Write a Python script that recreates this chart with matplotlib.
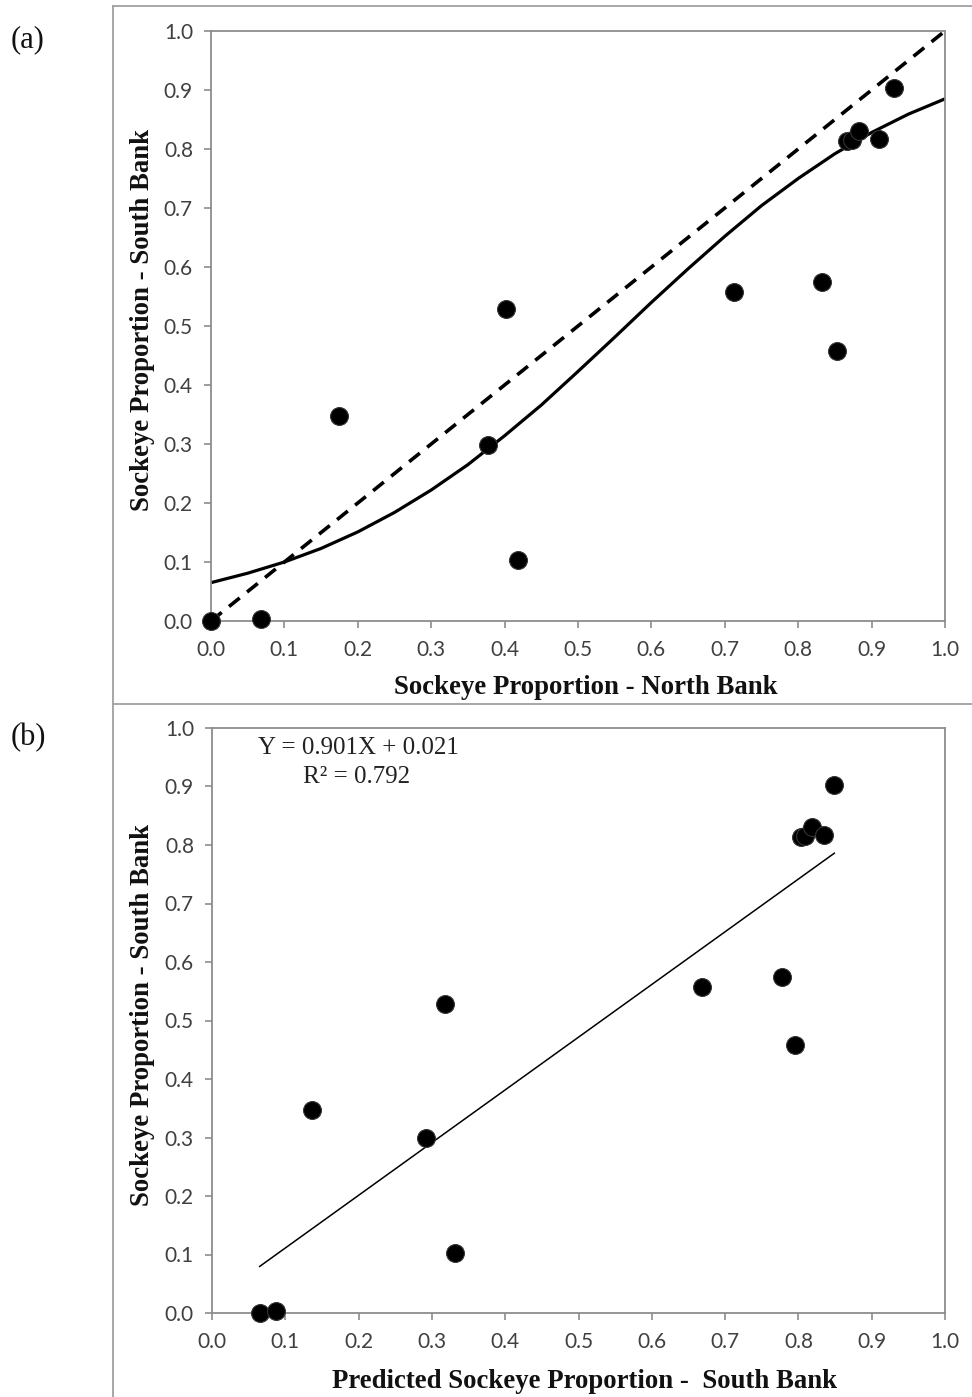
import matplotlib
matplotlib.use("Agg")
import matplotlib.pyplot as plt
from matplotlib.lines import Line2D

# ---------------- data ----------------
north_bank = [0.000, 0.068, 0.175, 0.378, 0.402, 0.418, 0.713, 0.833, 0.853,
              0.866, 0.873, 0.883, 0.910, 0.930]
south_bank = [0.000, 0.003, 0.347, 0.299, 0.528, 0.103, 0.557, 0.575, 0.458,
              0.813, 0.815, 0.830, 0.817, 0.903]
predicted_south = [0.065, 0.087, 0.137, 0.292, 0.318, 0.332, 0.668, 0.778, 0.795,
                   0.804, 0.809, 0.818, 0.835, 0.849]

curve_x = [0.00, 0.05, 0.10, 0.15, 0.20, 0.25, 0.30, 0.35, 0.40, 0.45, 0.50,
           0.55, 0.60, 0.65, 0.70, 0.75, 0.80, 0.85, 0.90, 0.95, 1.00]
curve_y = [0.065, 0.081, 0.100, 0.123, 0.151, 0.184, 0.222, 0.265, 0.314, 0.366, 0.423,
           0.481, 0.540, 0.597, 0.652, 0.704, 0.750, 0.792, 0.828, 0.859, 0.885]

one_to_one_x = [0.0, 1.0]
one_to_one_y = [0.0, 1.0]

reg_x = [0.065, 0.849]
reg_slope = 0.901
reg_intercept = 0.021
reg_y = [reg_slope * v + reg_intercept for v in reg_x]

ticks = [0.0, 0.1, 0.2, 0.3, 0.4, 0.5, 0.6, 0.7, 0.8, 0.9, 1.0]
tick_labels = ["0.0", "0.1", "0.2", "0.3", "0.4", "0.5", "0.6", "0.7", "0.8", "0.9", "1.0"]

# ---------------- style ----------------
W, H = 972, 1397
fig = plt.figure(figsize=(W / 100, H / 100), dpi=100)

spine_col = "#8c8c8c"
tick_font = ["Lato", "DejaVu Sans"]
serif = ["Liberation Serif", "DejaVu Serif"]


def fx(px):
    return px / W


def fy(py):
    return 1 - py / H


def style_axes(ax):
    ax.set_xlim(0, 1)
    ax.set_ylim(0, 1)
    ax.set_xticks(ticks)
    ax.set_yticks(ticks)
    ax.set_xticklabels(tick_labels, fontfamily=tick_font, fontsize=15, color="#404040")
    ax.set_yticklabels(tick_labels, fontfamily=tick_font, fontsize=15, color="#404040")
    for s in ax.spines.values():
        s.set_color(spine_col)
        s.set_linewidth(1.3)
    ax.tick_params(direction="out", length=5, width=1.2, color=spine_col)
    ax.tick_params(axis="x", pad=9)
    ax.tick_params(axis="y", pad=8)


# panel (a)
axa = fig.add_axes([fx(211), fy(621), fx(945) - fx(211), fy(31) - fy(621)])
style_axes(axa)
axa.plot(one_to_one_x, one_to_one_y, color="black", lw=2.6,
         linestyle=(0, (3.8, 2.6)), clip_on=False, zorder=2)
axa.plot(curve_x, curve_y, color="black", lw=2.3, zorder=2)
axa.scatter(north_bank, south_bank, s=165, color="black", edgecolor="#333333",
            linewidth=0.8, zorder=3, clip_on=False)

# panel (b)
axb = fig.add_axes([fx(212), fy(1313), fx(945) - fx(212), fy(728) - fy(1313)])
style_axes(axb)
axb.plot(reg_x, reg_y, color="black", lw=1.1, zorder=2)
axb.scatter(predicted_south, south_bank, s=165, color="black", edgecolor="#333333",
            linewidth=0.8, zorder=3, clip_on=False)
fig.text(fx(358), fy(748), "Y = 0.901X + 0.021", fontfamily=serif, fontsize=18,
         ha="center", va="center", color="#222222")
fig.text(fx(357), fy(777), "R² = 0.792", fontfamily=serif, fontsize=18,
         ha="center", va="center", color="#222222")

# axis labels
lab_kw = dict(fontfamily=serif, fontweight="bold", fontsize=19.3, color="#111111")
fig.text(fx(586), fy(688), "Sockeye Proportion - North Bank", ha="center", va="center", **lab_kw)
fig.text(fx(585), fy(1381), "Predicted Sockeye Proportion -  South Bank", ha="center", va="center", **lab_kw)
fig.text(fx(142), fy(320), "Sockeye Proportion - South Bank", ha="center", va="center",
         rotation=90, **lab_kw)
fig.text(fx(142), fy(1015), "Sockeye Proportion - South Bank", ha="center", va="center",
         rotation=90, **lab_kw)

# panel letters
fig.text(fx(28), fy(40), "(a)", fontfamily=serif, fontsize=22, ha="center", va="center", color="#111111")
fig.text(fx(28), fy(738), "(b)", fontfamily=serif, fontsize=22, ha="center", va="center", color="#111111")

# outer frame lines
frame_col = "#a0a0a0"
fig.add_artist(Line2D([fx(113), 1.0], [fy(6), fy(6)], color=frame_col, lw=1.3))
fig.add_artist(Line2D([fx(113), 1.0], [fy(704), fy(704)], color=frame_col, lw=1.3))
fig.add_artist(Line2D([fx(113), fx(113)], [fy(6), 0.0], color=frame_col, lw=1.3))

fig.savefig("out.png", dpi=100)
